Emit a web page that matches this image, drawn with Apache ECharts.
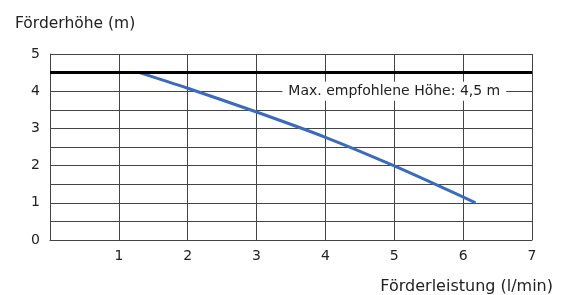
<!DOCTYPE html>
<html>
<head>
<meta charset="utf-8">
<script src="https://cdn.jsdelivr.net/npm/echarts@6/dist/echarts.min.js"></script>
<style>
html, body { margin: 0; padding: 0; background: #fff; }
#chart { width: 566px; height: 295px; }
</style>
</head>
<body>
<div id="chart"></div>
<script>
// Pumpenkennlinie: Förderleistung (l/min) -> Förderhöhe (m)
var flow = [1.3, 2, 3, 4, 5, 6.18];
var head = [4.5, 4.08, 3.44, 2.76, 1.99, 1.0];
var maxHead = 4.5;
var maxLabel = 'Max. empfohlene Höhe: 4,5 m';
var labelPos = [5, 4];

var font = '"DejaVu Sans", sans-serif';

var chart = echarts.init(document.getElementById('chart'));

var option = {
    animation: false,
    grid: { left: 50, right: 34, top: 54, bottom: 55, outerBoundsMode: 'none' },
    xAxis: {
        type: 'value',
        min: 0,
        max: 7,
        interval: 1,
        name: 'Förderleistung (l/min)',
        nameLocation: 'end',
        nameGap: 21,
        nameTextStyle: {
            fontFamily: font, fontSize: 16, color: '#222',
            align: 'right', verticalAlign: 'top', padding: [39, 0, 0, 0]
        },
        axisLine: { lineStyle: { color: '#444', width: 1 } },
        axisTick: { show: false },
        axisLabel: {
            fontFamily: font, fontSize: 14, color: '#222', margin: 9,
            formatter: function (v) { return v === 0 ? '' : v; }
        },
        splitLine: { show: true, lineStyle: { color: '#444', width: 1 } }
    },
    yAxis: {
        type: 'value',
        min: 0,
        max: 5,
        interval: 0.5,
        name: 'Förderhöhe (m)',
        nameLocation: 'end',
        nameGap: 22,
        nameTextStyle: {
            fontFamily: font, fontSize: 15.5, color: '#222',
            align: 'left', padding: [0, 0, 0, -35]
        },
        axisLine: { show: true, lineStyle: { color: '#444', width: 1 } },
        axisTick: { show: false },
        axisLabel: {
            fontFamily: font, fontSize: 14, color: '#222', margin: 10,
            formatter: function (v) { return v % 1 === 0 ? v : ''; }
        },
        splitLine: { show: true, lineStyle: { color: '#444', width: 1 } }
    },
    series: [
        {
            type: 'line',
            data: flow.map(function (x, i) { return [x, head[i]]; }),
            smooth: 0.3,
            symbol: 'none',
            lineStyle: { color: '#3a6bbf', width: 3 },
            z: 3,
            markLine: {
                silent: true,
                symbol: 'none',
                label: { show: false },
                lineStyle: { color: '#000', width: 3, type: 'solid' },
                data: [{ yAxis: maxHead }]
            },
            markPoint: {
                silent: true,
                symbol: 'rect',
                symbolSize: 0,
                data: [{ coord: labelPos }],
                label: {
                    show: true,
                    position: 'inside',
                    formatter: maxLabel,
                    fontFamily: font,
                    fontSize: 14,
                    color: '#222',
                    backgroundColor: '#fff',
                    padding: [3, 6, 2, 6]
                }
            }
        }
    ]
};

chart.setOption(option);
</script>
</body>
</html>
